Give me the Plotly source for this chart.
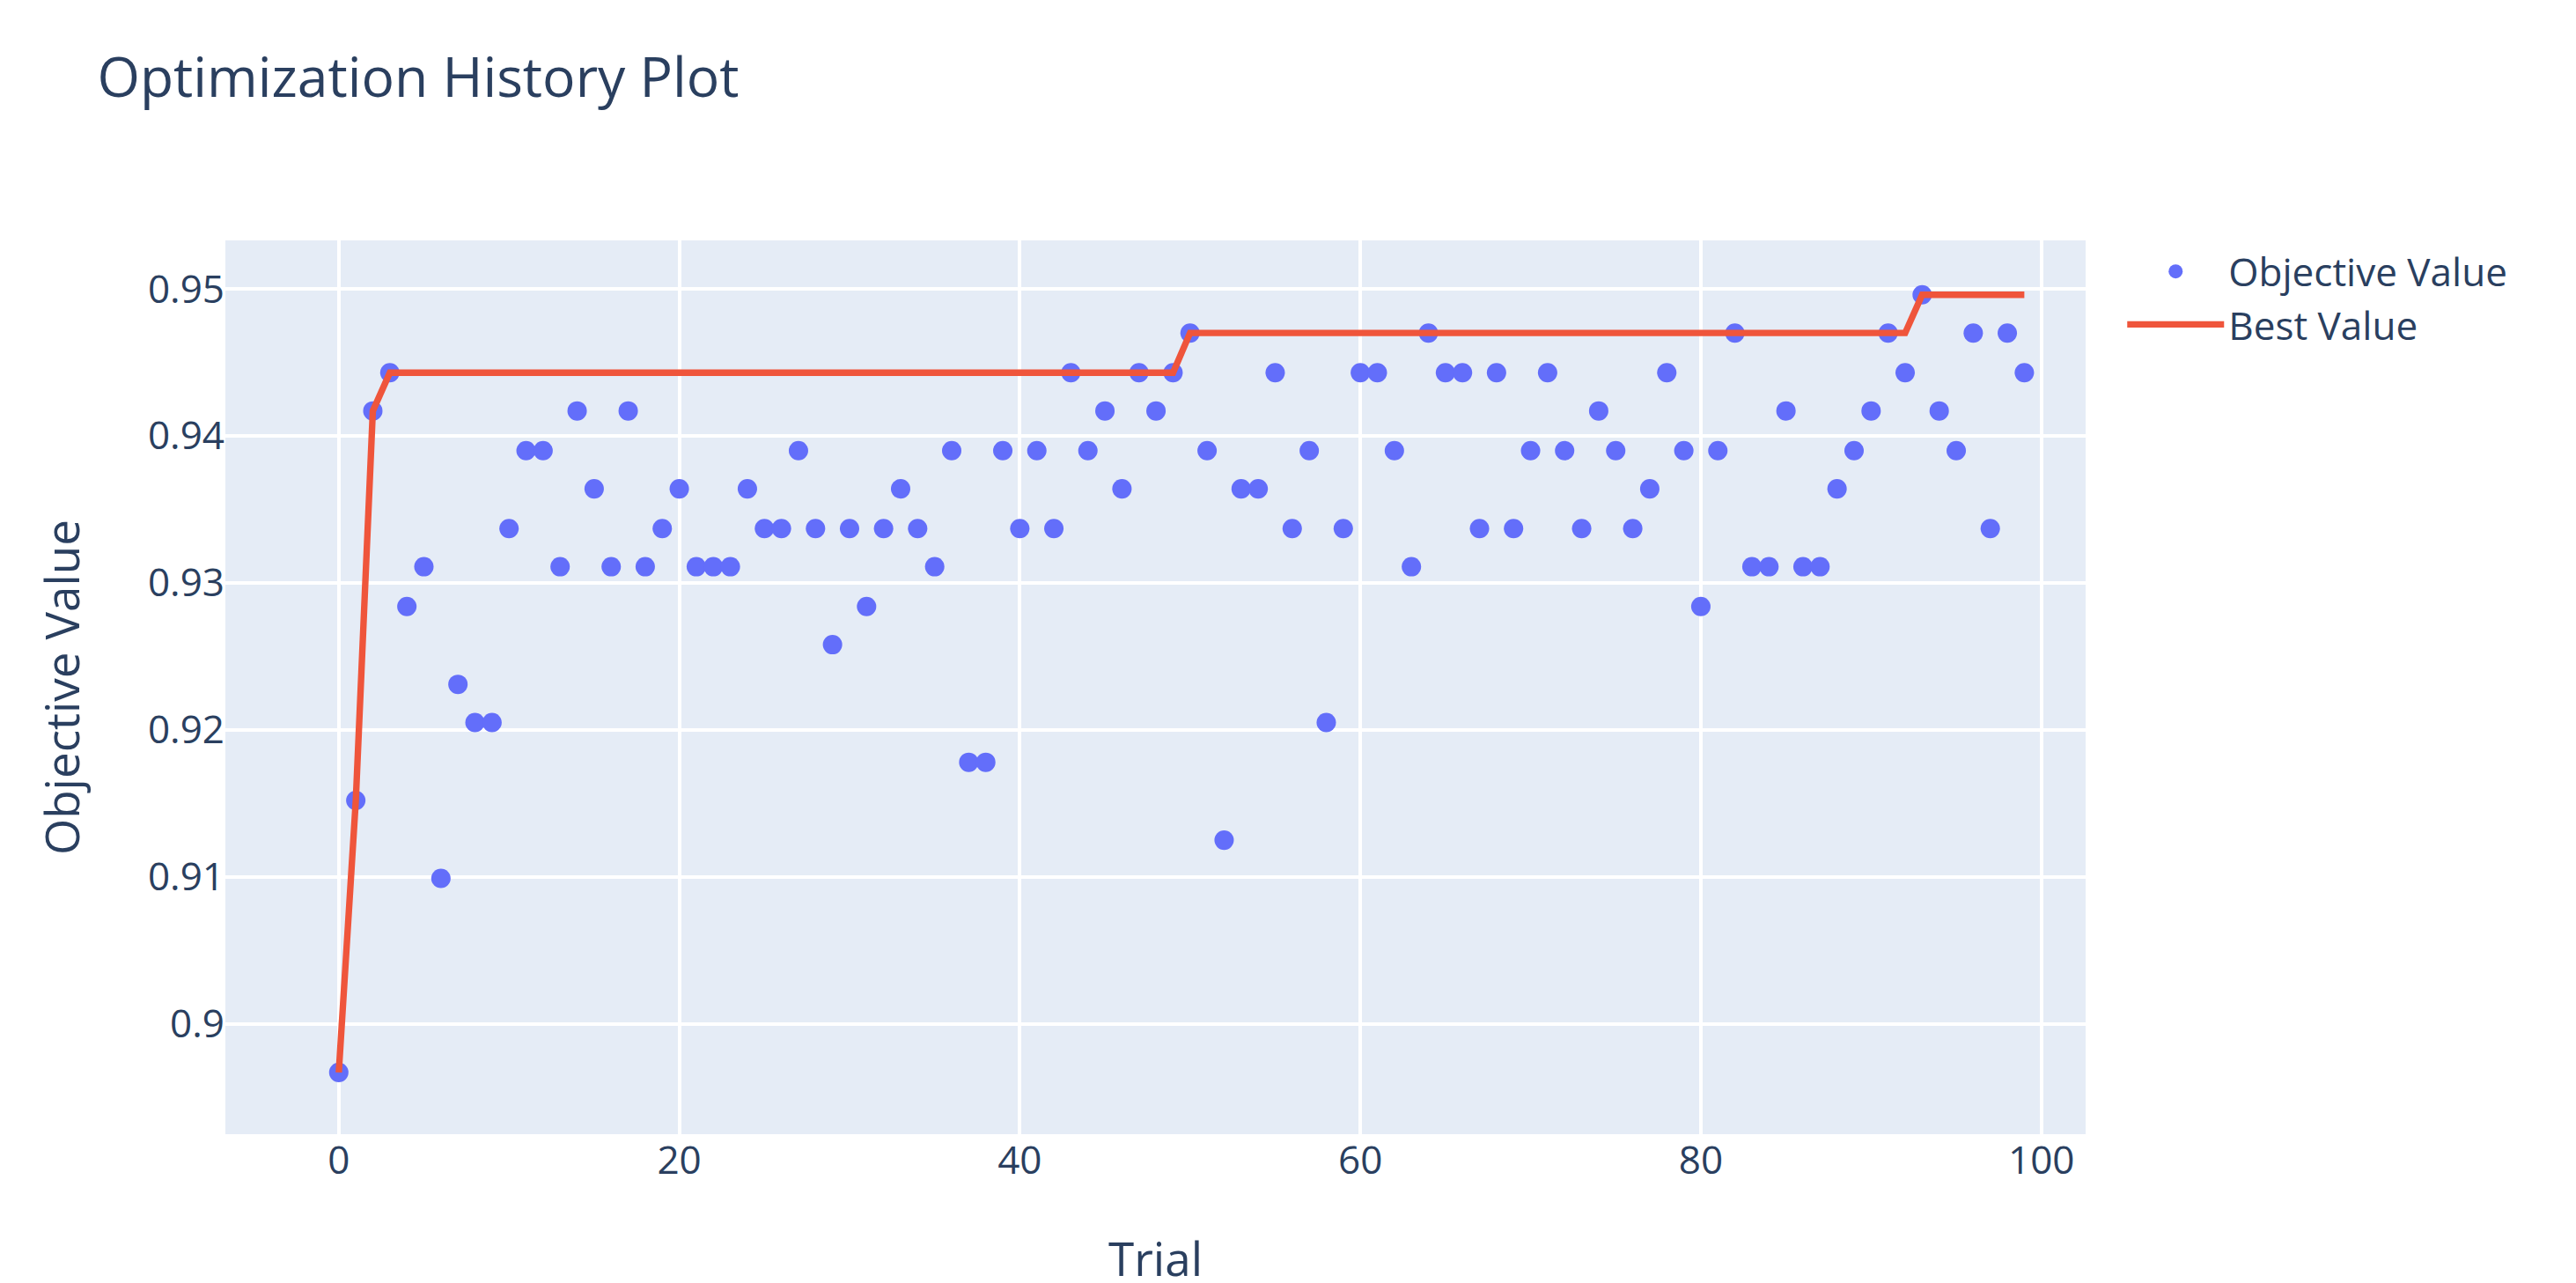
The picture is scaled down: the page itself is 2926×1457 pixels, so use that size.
import plotly.graph_objects as go

trials = list(range(100))
objective = [
    0.8967, 0.9152, 0.9417, 0.9443, 0.9284, 0.9311, 0.9099, 0.9231, 0.9205, 0.9205,
    0.9337, 0.9390, 0.9390, 0.9311, 0.9417, 0.9364, 0.9311, 0.9417, 0.9311, 0.9337,
    0.9364, 0.9311, 0.9311, 0.9311, 0.9364, 0.9337, 0.9337, 0.9390, 0.9337, 0.9258,
    0.9337, 0.9284, 0.9337, 0.9364, 0.9337, 0.9311, 0.9390, 0.9178, 0.9178, 0.9390,
    0.9337, 0.9390, 0.9337, 0.9443, 0.9390, 0.9417, 0.9364, 0.9443, 0.9417, 0.9443,
    0.9470, 0.9390, 0.9125, 0.9364, 0.9364, 0.9443, 0.9337, 0.9390, 0.9205, 0.9337,
    0.9443, 0.9443, 0.9390, 0.9311, 0.9470, 0.9443, 0.9443, 0.9337, 0.9443, 0.9337,
    0.9390, 0.9443, 0.9390, 0.9337, 0.9417, 0.9390, 0.9337, 0.9364, 0.9443, 0.9390,
    0.9284, 0.9390, 0.9470, 0.9311, 0.9311, 0.9417, 0.9311, 0.9311, 0.9364, 0.9390,
    0.9417, 0.9470, 0.9443, 0.9496, 0.9417, 0.9390, 0.9470, 0.9337, 0.9470, 0.9443,
]
best = []
cur = None
for v in objective:
    cur = v if cur is None else max(cur, v)
    best.append(cur)

S = 3.67
fig = go.Figure()
fig.add_trace(go.Scatter(x=trials, y=objective, mode="markers", name="Objective Value",
                         marker=dict(color="#636efa", size=6 * S)))
fig.add_trace(go.Scatter(x=trials, y=best, mode="lines", name="Best Value",
                         line=dict(color="#EF553B", width=2 * S)))
fig.update_layout(
    template="plotly",
    width=2926, height=1457,
    font=dict(family="Open Sans, sans-serif", size=12 * S, color="#2a3f5f"),
    title=dict(text="Optimization History Plot", x=0.035, y=0.96, xanchor="left",
               font=dict(size=17 * S)),
    margin=dict(l=248, r=565, t=265, b=173),
    legend=dict(x=1.02, y=1.0, font=dict(size=12 * S), itemwidth=110),
    xaxis=dict(title=dict(text="Trial", standoff=70), range=[-6.66, 102.6], dtick=20,
               gridwidth=3.5, zeroline=False),
    yaxis=dict(title=dict(text="Objective Value", standoff=60), range=[0.8925, 0.9533],
               dtick=0.01, gridwidth=3.5),
)
fig.write_html("out.html")
